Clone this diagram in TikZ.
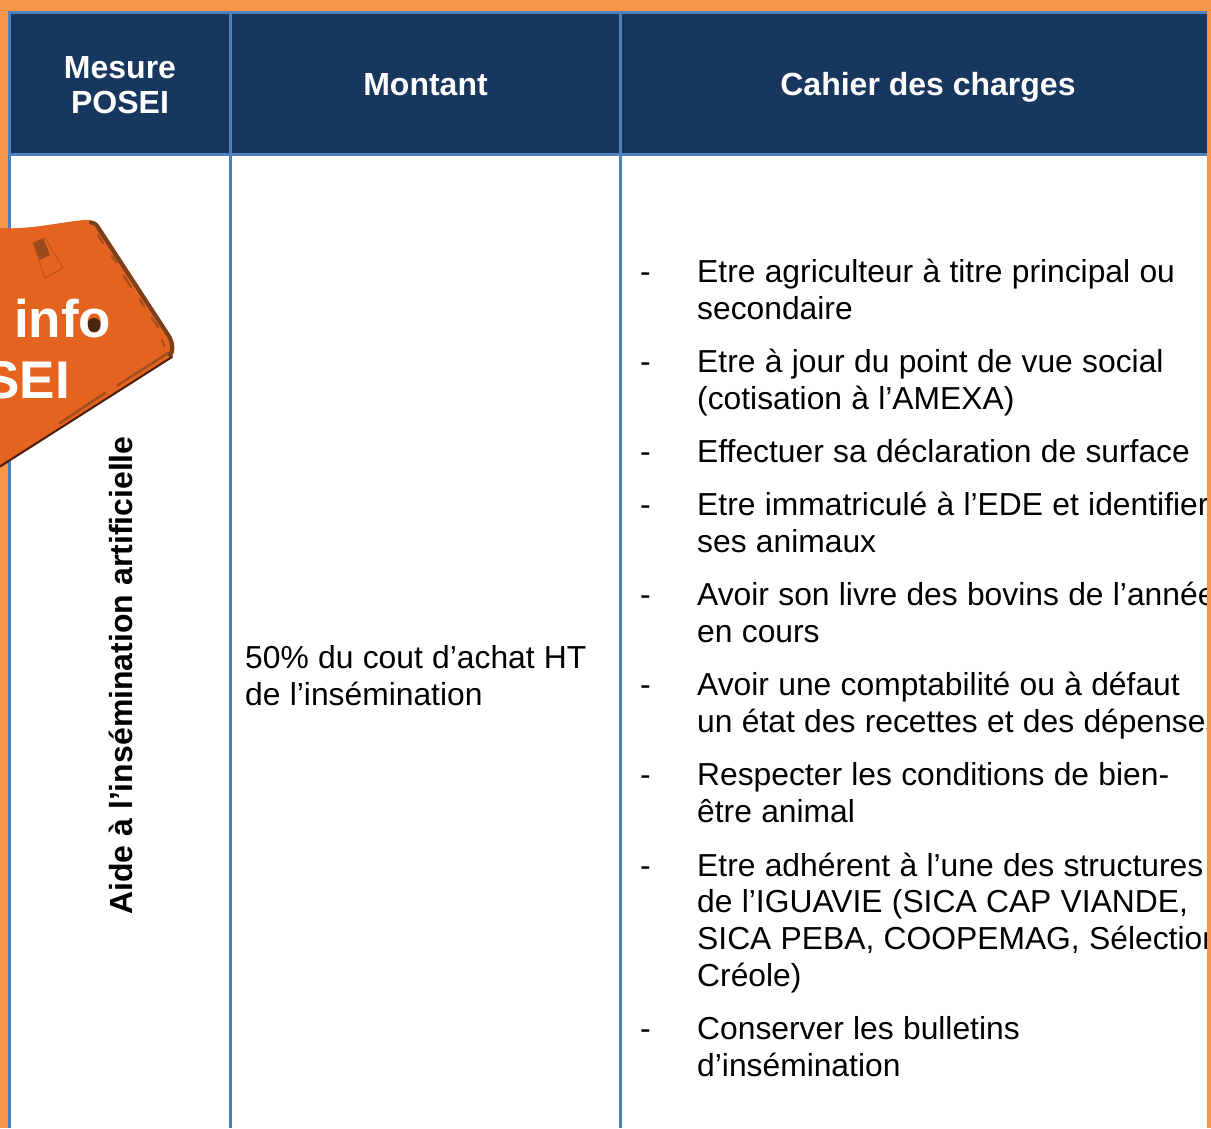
\documentclass[tikz,border=0pt]{standalone}
\usepackage{fontspec}
\setmainfont{Liberation Sans}
\definecolor{frameor}{HTML}{F79646}
\definecolor{gridblue}{HTML}{4F81BD}
\definecolor{navy}{HTML}{17375E}
\definecolor{tagor}{HTML}{E4641F}
\definecolor{tagedge}{HTML}{7A3F1C}
\definecolor{tagdark}{HTML}{4A1E08}
\definecolor{tagmark}{HTML}{B9561C}
\tikzset{
  headtxt/.style={text=white,font=\fontsize{32}{36}\bfseries\selectfont,align=center,inner sep=0pt,anchor=base},
  bodytxt/.style={text=black,font=\fontsize{31.8}{36.7}\selectfont,anchor=base west,inner sep=0pt,align=left,text width=620pt,execute at begin node={\spaceskip=9.3pt\relax}},
  dashtxt/.style={text=black,font=\fontsize{31.8}{36.7}\selectfont,anchor=base west,inner sep=0pt},
  gridline/.style={draw=gridblue,line width=3pt},
  tagtxt/.style={text=white,font=\fontsize{53}{60}\bfseries\selectfont,inner sep=0pt}
}
\begin{document}
\begin{tikzpicture}[x=1pt,y=-1pt]
\useasboundingbox (0,0) rectangle (1211,1128);
\clip (0,0) rectangle (1211,1128);
% page frame and table
\fill[frameor] (0,0) rectangle (1211,1128);
\fill[white] (8,11) rectangle (1207,1128);
\fill[navy] (8,11) rectangle (1207,155);
\draw[gridline] (8,12.5) -- (1207,12.5);
\draw[gridline] (8,154.5) -- (1207,154.5);
\draw[gridline] (9.5,11) -- (9.5,1128);
\draw[gridline] (230.5,11) -- (230.5,1128);
\draw[gridline] (620.5,11) -- (620.5,1128);
% header
\node[headtxt,text width=200pt] (h1) at (120,78) {Mesure\\[-1pt]POSEI};
\node[headtxt] (h2) at (425.5,95) {Montant};
\node[headtxt] (h3) at (928,95) {Cahier des charges};
% side label and amount
\node[text=black,font=\fontsize{32}{34}\bfseries\selectfont,inner sep=0pt,rotate=90,anchor=base] (side) at (132,675.5) {Aide à l’insémination artificielle};
\node[bodytxt,text width=370pt] (amount) at (245,668) {50\% du cout d’achat HT\\[.4pt]de l’insémination};
% list
\foreach \n/\y in {a/282,b/372,c/462,d/515,e/605,f/695,g/785,h/876,i/1039}{
  \node[dashtxt] (dash\n) at (640,\y) {-};
}
\node[bodytxt] (ia) at (697,282) {Etre agriculteur à titre principal ou\\[.3pt]secondaire};
\node[bodytxt] (ib) at (697,372) {Etre à jour du point de vue social\\[.3pt](cotisation à l’AMEXA)};
\node[bodytxt] (ic) at (697,462) {Effectuer sa déclaration de surface};
\node[bodytxt] (id) at (697,515) {Etre immatriculé à l’EDE et identifier\\[.5pt]ses animaux};
\node[bodytxt] (ie) at (697,605) {Avoir son livre des bovins de l’année\\[.5pt]en cours};
\node[bodytxt] (if) at (697,695) {Avoir une comptabilité ou à défaut\\[.5pt]un état des recettes et des dépenses};
\node[bodytxt] (ig) at (697,785) {Respecter les conditions de bien-\\[.5pt]être animal};
\node[bodytxt] (ih) at (697,876) {Etre adhérent à l’une des structures\\de l’IGUAVIE (SICA CAP VIANDE,\\SICA PEBA, COOPEMAG, Sélection\\Créole)};
\node[bodytxt] (ii) at (697,1039) {Conserver les bulletins\\[.5pt]d’insémination};
% right frame strip over clipped text
\fill[frameor] (1207,0) rectangle (1211,1128);
% orange tag
\fill[tagor] (0,228) .. controls (30,230) and (60,222) .. (85,220)
  .. controls (92,219) and (97,222) .. (101,228) -- (171,336)
  .. controls (175,343) and (176,351) .. (172,357) -- (0,467) -- cycle;
\draw[tagedge,line width=4pt,line cap=round,line join=round] (91,222.5) .. controls (95,223) and (97,225) .. (99,229) -- (169.5,337)
  .. controls (172.5,343) and (173.5,350) .. (170,355);
\draw[tagdark,line width=2pt,line cap=round] (172,357) -- (0,466.5);
\draw[tagedge,line width=2.5pt,line cap=round,opacity=.6] (168,353) -- (118,385) (105,393) -- (60,423);
\draw[tagedge,line width=2.5pt,line cap=round,opacity=.55]
  (98,235) -- (103,243) (112,256) -- (116,262) (124,276) -- (131,287)
  (140,300) -- (144,306) (152,318) -- (158,327) (162,340) -- (164,346);
\draw[tagmark,line width=1pt] (33,243) -- (45,238) -- (63,268) -- (45,278) -- cycle;
\fill[tagedge!70!tagor] (33,243) -- (43,238) -- (50,255) -- (40,260) -- cycle;
\fill[tagedge!60!black] (94,325) circle (7pt);
\node[tagtxt,anchor=base west] (tag1) at (14,337) {info};
\node[tagtxt,anchor=base east] (tag2) at (70,398.5) {SEI};
\end{tikzpicture}
\end{document}
